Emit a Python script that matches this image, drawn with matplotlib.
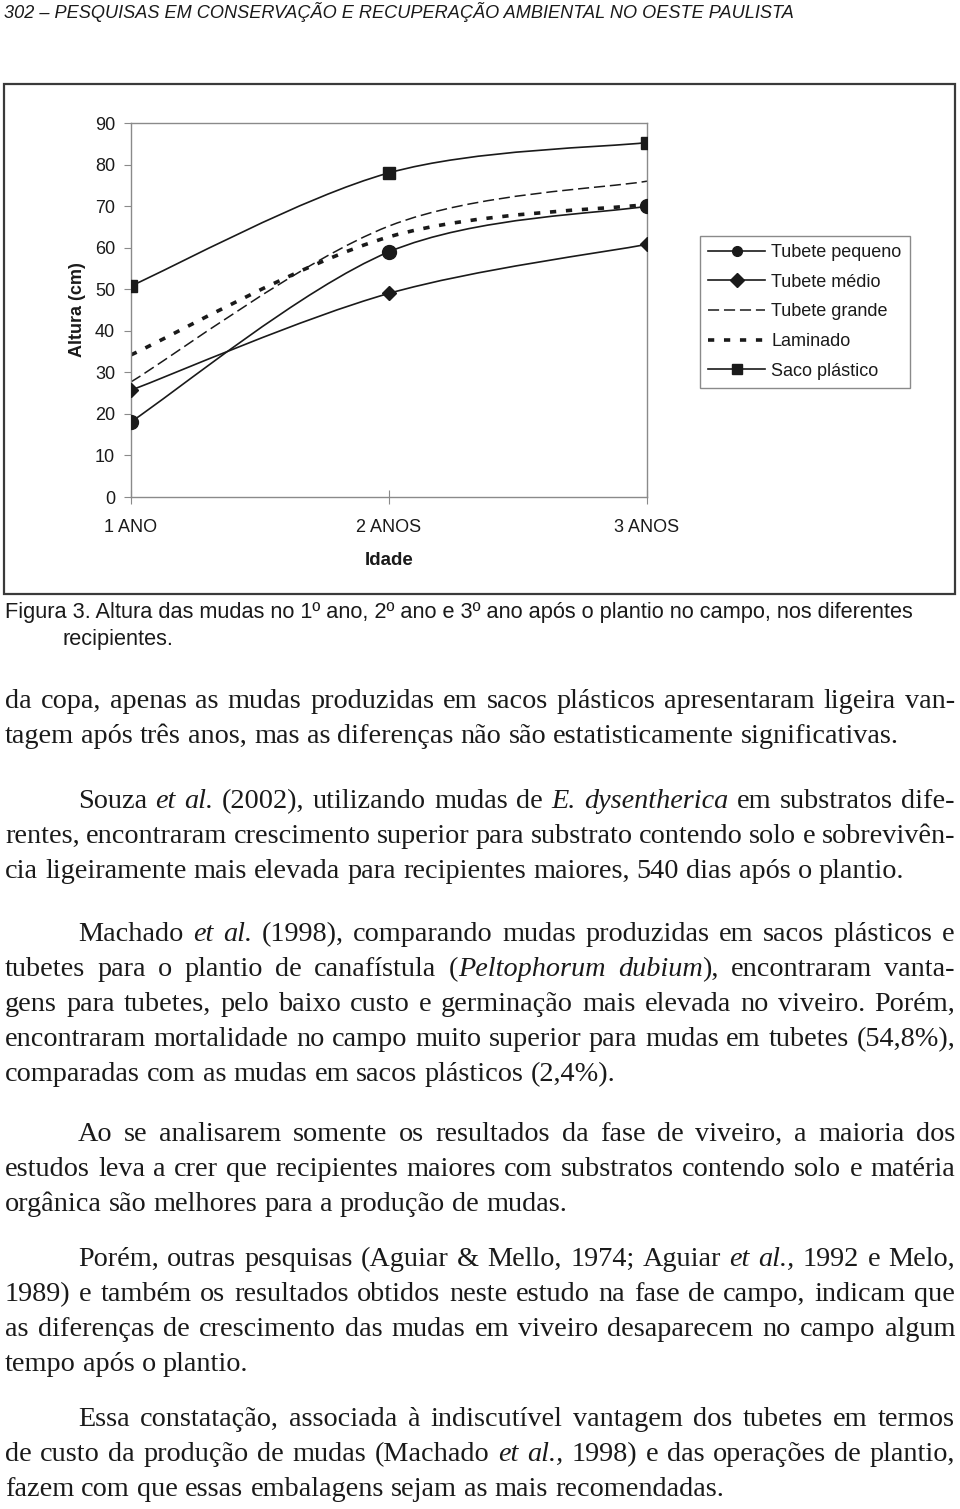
import numpy as np
import matplotlib
matplotlib.use("Agg")
import matplotlib.pyplot as plt
from matplotlib.path import Path
from matplotlib.patches import PathPatch, Rectangle
from matplotlib.lines import Line2D

W, H = 960, 1509

# dados do gráfico (Altura, cm)
anos = ["1 ANO", "2 ANOS", "3 ANOS"]
tubete_pequeno = [18.1, 59.0, 70.0]
tubete_medio = [25.7, 49.0, 60.8]
tubete_grande = [27.7, 65.2, 76.0]
laminado = [34.2, 62.6, 70.4]
saco_plastico = [50.8, 78.0, 85.3]
nomes = ["Tubete pequeno", "Tubete médio", "Tubete grande", "Laminado", "Saco plástico"]
yticks = list(range(0, 100, 10))

cabecalho = "302 – PESQUISAS EM CONSERVAÇÃO E RECUPERAÇÃO AMBIENTAL NO OESTE PAULISTA"
legenda_fig = ["Figura 3. Altura das mudas no 1º ano, 2º ano e 3º ano após o plantio no campo, nos diferentes",
               "recipientes."]

paragrafos = [
    ["da copa, apenas as mudas produzidas em sacos plásticos apresentaram ligeira van-",
     "tagem após três anos, mas as diferenças não são estatisticamente significativas."],
    ["Souza *et al.* (2002), utilizando mudas de *E. dysentherica* em substratos dife-",
     "rentes, encontraram crescimento superior para substrato contendo solo e sobrevivên-",
     "cia ligeiramente mais elevada para recipientes maiores, 540 dias após o plantio."],
    ["Machado *et al.* (1998), comparando mudas produzidas em sacos plásticos e",
     "tubetes para o plantio de canafístula (*Peltophorum dubium*), encontraram vanta-",
     "gens para tubetes, pelo baixo custo e germinação mais elevada no viveiro. Porém,",
     "encontraram mortalidade no campo muito superior para mudas em tubetes (54,8%),",
     "comparadas com as mudas em sacos plásticos (2,4%)."],
    ["Ao se analisarem somente os resultados da fase de viveiro, a maioria dos",
     "estudos leva a crer que recipientes maiores com substratos contendo solo e matéria",
     "orgânica são melhores para a produção de mudas."],
    ["Porém, outras pesquisas (Aguiar & Mello, 1974; Aguiar *et al.,* 1992 e Melo,",
     "1989) e também os resultados obtidos neste estudo na fase de campo, indicam que",
     "as diferenças de crescimento das mudas em viveiro desaparecem no campo algum",
     "tempo após o plantio."],
    ["Essa constatação, associada à indiscutível vantagem dos tubetes em termos",
     "de custo da produção de mudas (Machado *et al.,* 1998) e das operações de plantio,",
     "fazem com que essas embalagens sejam as mais recomendadas."],
]
inicio_par = [702, 802, 935, 1135, 1260, 1420]

plt.rcParams["lines.scale_dashes"] = False
plt.rcParams["font.family"] = ["Liberation Sans", "DejaVu Sans"]
INK = "#1a1a1a"
SERIF = ["Liberation Serif", "DejaVu Serif"]
NARROW = ["Liberation Sans Narrow", "Liberation Sans", "DejaVu Sans"]

fig = plt.figure(figsize=(W / 100, H / 100), dpi=100)
fig.patch.set_facecolor("white")
rend = fig.canvas.get_renderer()


def fx(x):
    return x / W


def fy(y):
    return 1 - y / H


def largura(s, **kw):
    t = fig.text(0, 0, s, **kw)
    w = t.get_window_extent(rend).width
    t.remove()
    return w


def ajusta(s, alvo, base=14, **kw):
    return base * alvo / largura(s, fontsize=base, **kw)


# cabeçalho
sz = ajusta(cabecalho, 789, family=NARROW, style="italic")
fig.text(fx(4), fy(12), cabecalho, fontsize=sz, family=NARROW, style="italic",
         color=INK, va="center", ha="left")

# moldura do gráfico
fig.add_artist(Rectangle((fx(4), fy(594)), 951 / W, 510 / H, transform=fig.transFigure,
                         fill=False, edgecolor="#3a3a3a", lw=1.6))

# gráfico
ax = fig.add_axes([fx(131), fy(497), 516 / W, 374 / H])
ax.set_xlim(0, 2)
ax.set_ylim(0, 90)
x = np.arange(len(anos))


def curva(xs, ys):
    pts = np.column_stack([xs, ys]).astype(float)
    n = len(pts)
    verts, codes = [pts[0]], [Path.MOVETO]
    for i in range(n - 1):
        p0, p1 = pts[max(i - 1, 0)], pts[i]
        p2, p3 = pts[i + 1], pts[min(i + 2, n - 1)]
        verts += [p1 + (p2 - p0) / 6, p2 - (p3 - p1) / 6, p2]
        codes += [Path.CURVE4] * 3
    return Path(verts, codes)


estilos = [
    dict(ls="-", lw=1.2, marker="o", ms=10),
    dict(ls="-", lw=1.2, marker="D", ms=7),
    dict(ls=(0, (8, 3.5)), lw=1.1, marker=None, ms=0),
    dict(ls=(0, (4.5, 7)), lw=2.6, marker=None, ms=0),
    dict(ls="-", lw=1.2, marker="s", ms=8),
]
series = [tubete_pequeno, tubete_medio, tubete_grande, laminado, saco_plastico]
handles = []
for ys, st, nome in zip(series, estilos, nomes):
    ax.add_patch(PathPatch(curva(x, ys), fill=False, edgecolor=INK, lw=st["lw"],
                           linestyle=st["ls"], capstyle="butt"))
    if st["marker"]:
        ax.plot(x, ys, ls="none", marker=st["marker"], ms=st["ms"], color=INK, zorder=3)
    handles.append(Line2D([], [], color=INK, lw=st["lw"], linestyle=st["ls"],
                          marker=st["marker"], ms=7 if st["marker"] else 0,
                          dash_capstyle="butt", label=nome))

ax.set_xticks(x)
ax.set_xticklabels(anos)
ax.set_yticks(yticks)
for s in ax.spines.values():
    s.set_color("#8a8a8a")
    s.set_linewidth(1.0)
ax.tick_params(axis="y", direction="out", length=5, color="#8a8a8a", labelsize=13,
               labelcolor=INK, pad=6.5)
ax.tick_params(axis="x", direction="inout", length=10, color="#8a8a8a", labelsize=13,
               labelcolor=INK, pad=10.5)
ax.set_xlabel("Idade", fontsize=13.5, fontweight="bold", color=INK, labelpad=12)
ax.set_ylabel("Altura (cm)", fontsize=13, fontweight="bold", color=INK, labelpad=6)

leg = ax.legend(handles=handles, loc="upper left", bbox_to_anchor=(fx(700), fy(236)),
                bbox_transform=fig.transFigure, borderaxespad=0, fontsize=13,
                handlelength=3.15, handletextpad=0.35, labelspacing=0.7,
                borderpad=0.45, frameon=True, fancybox=False, framealpha=1)
leg.get_frame().set_edgecolor("#8a8a8a")
leg.get_frame().set_linewidth(1.0)
for t in leg.get_texts():
    t.set_color(INK)

# legenda da figura
sz = ajusta(legenda_fig[0], 917, family=NARROW)
fig.text(fx(5), fy(612), legenda_fig[0], fontsize=sz, family=NARROW, color=INK, va="center")
fig.text(fx(62), fy(640), legenda_fig[1], fontsize=sz, family=NARROW, color=INK, va="center")

# texto corrido (justificado)
fs = ajusta(paragrafos[1][2], 900, base=18, family=SERIF)


def palavras(linha):
    ws = [[]]
    for k, seg in enumerate(linha.split("*")):
        it = k % 2 == 1
        for j, p in enumerate(seg.split(" ")):
            if j > 0:
                ws.append([])
            if p:
                ws[-1].append((p, it))
    return [w for w in ws if w]


espaco = largura("a a", fontsize=fs, family=SERIF) - largura("aa", fontsize=fs, family=SERIF)


def escreve(linha, yc, x0, x1, justifica):
    ws = palavras(linha)
    objs = []
    total = 0
    for w in ws:
        grupo = []
        for p, it in w:
            t = fig.text(0, fy(yc + 6), p, fontsize=fs, family=SERIF,
                         style="italic" if it else "normal", color=INK, va="baseline")
            wd = t.get_window_extent(rend).width
            grupo.append((t, wd))
            total += wd
        objs.append(grupo)
    gap = (x1 - x0 - total) / (len(ws) - 1) if justifica and len(ws) > 1 else espaco
    xc = x0
    for grupo in objs:
        for t, wd in grupo:
            t.set_x(fx(xc))
            xc += wd
        xc += gap


for k, (par, y0) in enumerate(zip(paragrafos, inicio_par)):
    for i, linha in enumerate(par):
        x0 = 78 if (i == 0 and k > 0) else 5
        escreve(linha, y0 + 35 * i, x0, 955, i < len(par) - 1)

fig.savefig("out.png", dpi=100, facecolor="white")
